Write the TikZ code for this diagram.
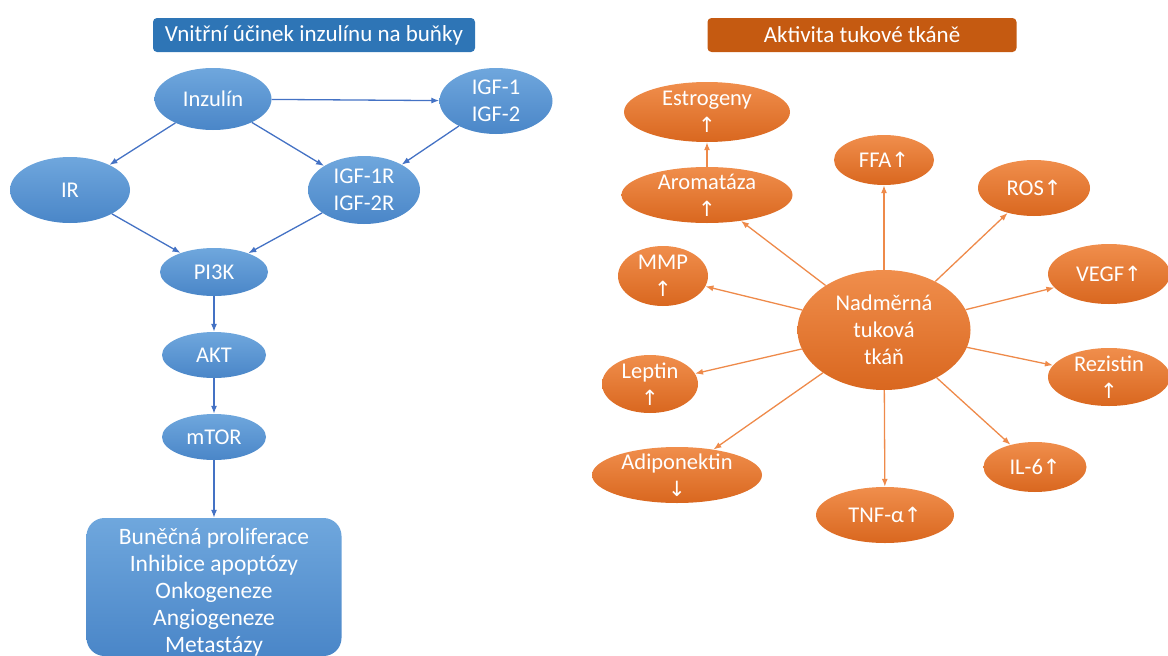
\documentclass[tikz,border=0pt]{standalone}
\usepackage{fontspec}
\setmainfont{Carlito}
\newfontfamily\arrowfont{DejaVu Sans}
\usetikzlibrary{arrows.meta,shapes.geometric}

\definecolor{ttlblue}{HTML}{2E75B6}
\definecolor{ttlorange}{HTML}{C55A11}
\definecolor{blobtop}{HTML}{6FA7DD}
\definecolor{blobbot}{HTML}{4A86C8}
\definecolor{lineblue}{HTML}{4472C4}
\definecolor{orgtop}{HTML}{F08E4C}
\definecolor{orgbot}{HTML}{D9671F}
\definecolor{lineorange}{HTML}{EE8A4A}

\newcommand{\arrup}{{\arrowfont\fontsize{21}{24}\selectfont ↑}}
\newcommand{\arrdn}{{\arrowfont\fontsize{21}{24}\selectfont ↓}}

\begin{document}
\begin{tikzpicture}[
  x=1pt, y=-1pt,
  font=\fontsize{22.5}{27}\selectfont,
  title/.style={draw=none, rounded corners=4pt, minimum width=#1, minimum height=34pt, text=white, font=\fontsize{23}{26}\selectfont},
  blob/.style={ellipse, inner sep=0pt, top color=blobtop, bottom color=blobbot, draw=none},
  oblob/.style={ellipse, inner sep=0pt, top color=orgtop, bottom color=orgbot, draw=none},
  txt/.style={text=white, align=center, inner sep=0pt},
  arr/.style={-{Latex[length=8pt,width=6pt]}, line width=1.3pt, draw=lineblue},
  oarr/.style={-{Latex[length=8pt,width=6pt]}, line width=1.3pt, draw=lineorange}
]
\useasboundingbox (0,0) rectangle (1168,656);

% titles
\node[title=322pt, fill=ttlblue] (ttlL) at (314,35) {Vnitřní účinek inzulínu na buňky};
\node[title=309pt, fill=ttlorange] (ttlR) at (862,35) {Aktivita tukové tkáně};

% insulin pathway
\node[blob, minimum width=117pt, minimum height=62pt, label={[txt]center:Inzulín}] (ins) at (213,99) {};
\node[blob, minimum width=113pt, minimum height=66pt, label={[txt]center:IGF-1\\IGF-2}] (igf) at (496,101) {};
\node[blob, minimum width=120pt, minimum height=66pt, label={[txt]center:IR}] (ir) at (70,190) {};
\node[blob, minimum width=112pt, minimum height=68pt, label={[txt]center:IGF-1R\\IGF-2R}] (igfr) at (364,190) {};
\node[blob, minimum width=108pt, minimum height=48pt, label={[txt]center:PI3K}] (pik) at (214,272) {};
\node[blob, minimum width=104pt, minimum height=46pt, label={[txt]center:AKT}] (akt) at (214,355) {};
\node[blob, minimum width=104pt, minimum height=46pt, label={[txt]center:mTOR}] (mtor) at (214,437) {};
\node[rounded corners=18pt, top color=blobtop, bottom color=blobbot, minimum width=255pt, minimum height=138pt,
  label={[txt, yshift=-5pt, font=\fontsize{23.5}{27}\selectfont]center:Buněčná proliferace\\Inhibice apoptózy\\Onkogeneze\\Angiogeneze\\Metastázy}] (eff) at (214,587) {};

\draw[arr] (ins) -- (igf);
\draw[arr] (ins) -- (ir);
\draw[arr] (ins) -- (igfr);
\draw[arr] (igf) -- (igfr);
\draw[arr] (ir) -- (pik);
\draw[arr] (igfr) -- (pik);
\draw[arr] (pik) -- (akt);
\draw[arr] (akt) -- (mtor);
\draw[arr] (mtor) -- (eff);

% adipose tissue
\node[oblob, minimum width=173pt, minimum height=120pt, label={[txt]center:Nadměrná\\tuková\\tkáň}] (fat) at (884,330) {};
\node[oblob, minimum width=166pt, minimum height=60pt, label={[txt]center:Estrogeny\\\arrup}] (estr) at (707,112) {};
\node[oblob, minimum width=171pt, minimum height=56pt, label={[txt]center:Aromatáza\\\arrup}] (arom) at (707,195) {};
\node[oblob, minimum width=100pt, minimum height=50pt, label={[txt]center:FFA\arrup}] (ffa) at (884,160) {};
\node[oblob, minimum width=112pt, minimum height=56pt, label={[txt]center:ROS\arrup}] (ros) at (1034,188) {};
\node[oblob, minimum width=90pt, minimum height=60pt, label={[txt]center:MMP\\\arrup}] (mmp) at (663,276) {};
\node[oblob, minimum width=122pt, minimum height=60pt, label={[txt]center:VEGF\arrup}] (vegf) at (1109,274) {};
\node[oblob, minimum width=96pt, minimum height=58pt, label={[txt]center:Leptin\\\arrup}] (lept) at (650,384) {};
\node[oblob, minimum width=122pt, minimum height=58pt, label={[txt]center:Rezistin\\\arrup}] (rez) at (1109,377) {};
\node[oblob, minimum width=170pt, minimum height=56pt, label={[txt]center:Adiponektin\\\arrdn}] (adip) at (677,475) {};
\node[oblob, minimum width=138pt, minimum height=56pt, label={[txt]center:TNF-α\arrup}] (tnf) at (885,515) {};
\node[oblob, minimum width=103pt, minimum height=50pt, label={[txt]center:IL-6\arrup}] (il) at (1035,467) {};

\draw[oarr] (arom) -- (estr);
\foreach \t in {arom,ffa,ros,mmp,vegf,lept,rez,adip,tnf,il}
  \draw[oarr] (fat) -- (\t);
\end{tikzpicture}
\end{document}
